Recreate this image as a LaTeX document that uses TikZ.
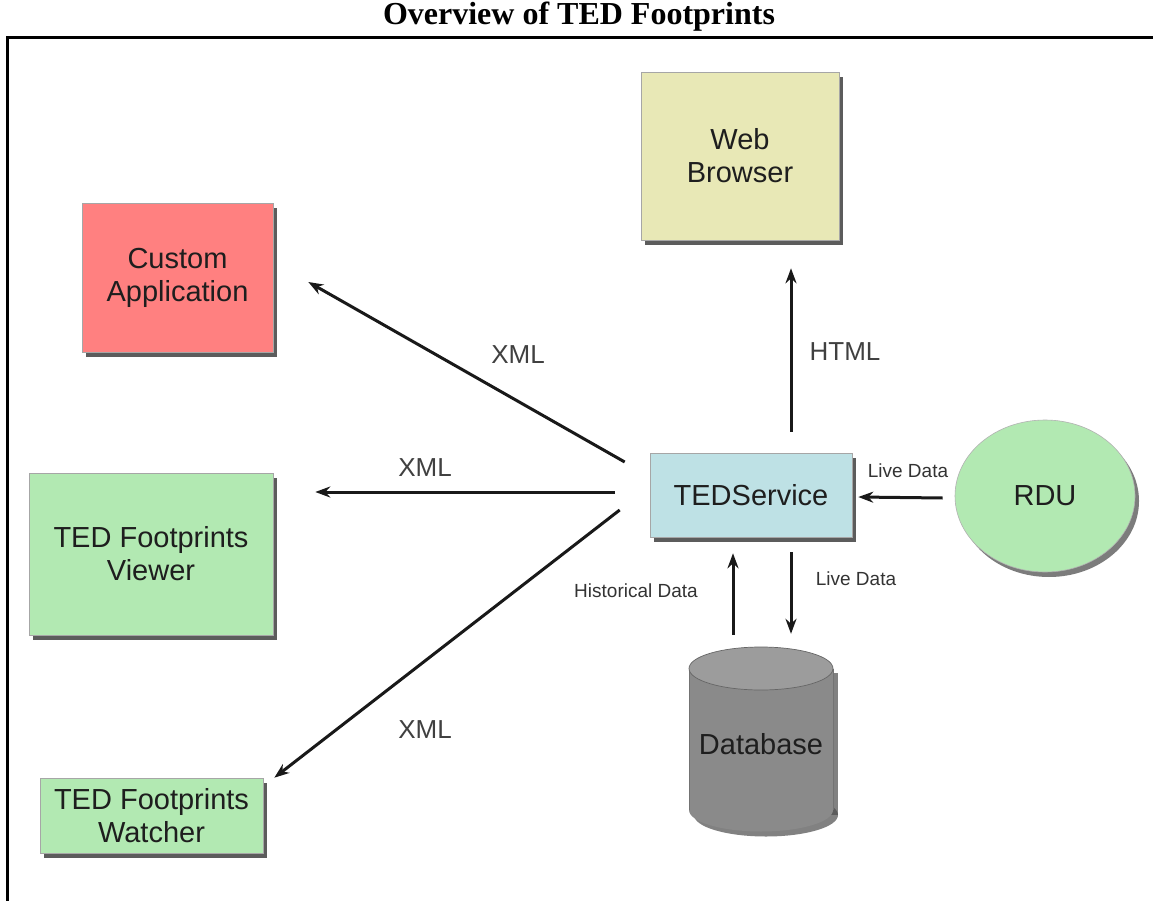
\documentclass[tikz,border=0pt]{standalone}
\usepackage{fontspec}
\setmainfont{Liberation Serif}
\newfontfamily\arial{Liberation Sans}
\usetikzlibrary{shapes.geometric,shadows,arrows.meta,calc}
\definecolor{cred}{HTML}{FF8080}
\definecolor{cyel}{HTML}{E8E8B6}
\definecolor{cblue}{HTML}{BEE1E5}
\definecolor{cgreen}{HTML}{B2E9B2}
\definecolor{cgray}{HTML}{8A8A8A}
\definecolor{ctext}{HTML}{1E1E1E}
\begin{document}
\begin{tikzpicture}[x=1pt,y=-1pt,
  box/.style={rectangle, fill=#1, draw=black!35, line width=0.6pt,
    drop shadow={shadow xshift=4pt,shadow yshift=-5pt,opacity=0.75,fill=black!85},
    font=\arial\fontsize{29}{33}\selectfont, text=ctext, align=center, inner sep=0pt},
  arr/.style={-{Stealth[length=15pt,width=11pt]}, line width=3pt, black!90},
  lbl/.style={font=\arial\fontsize{26}{30}\selectfont, text=black!75},
  slbl/.style={font=\arial\fontsize{19}{22}\selectfont, text=black!80},
]
\useasboundingbox (0,0) rectangle (1153,901);
\fill[white] (0,0) rectangle (1153,901);

% title and frame
\node[font=\bfseries\fontsize{32}{36}\selectfont, anchor=base, inner sep=0pt] (title) at (579,25) {Overview of TED Footprints};
\draw[line width=3pt] (1154,37.5) -- (7,37.5) -- (7,902);

% boxes
\node[box=cyel, minimum width=198pt, minimum height=168pt] (web) at (740,156) {Web\\Browser};
\node[box=cred, minimum width=191pt, minimum height=149pt] (custom) at (177.5,277.5) {Custom\\Application};
\node[box=cblue, minimum width=202pt, minimum height=84pt] (ted) at (751,495) {TEDService};
\node[box=cgreen, minimum width=244pt, minimum height=162pt] (viewer) at (151,554) {TED Footprints\\Viewer};
\node[box=cgreen, minimum width=223pt, minimum height=75pt] (watcher) at (151.5,815.5) {TED Footprints\\Watcher};
\node[ellipse, fill=cgreen, draw=black!30, line width=0.6pt,
  drop shadow={shadow xshift=4pt,shadow yshift=-5pt,opacity=0.6,fill=black!85},
  minimum width=180pt, minimum height=152pt, inner sep=0pt,
  font=\arial\fontsize{29}{33}\selectfont, text=ctext] (rdu) at (1045,496) {RDU};

% database cylinder
\fill[black!70, opacity=0.7] (694,673) rectangle (838,815);
\fill[black!70, opacity=0.7] (766,815) ellipse [x radius=72, y radius=21.5];
\fill[cgray] (689,668.5) rectangle (833,810);
\fill[cgray] (761,810) ellipse [x radius=72, y radius=21.5];
\draw[black!55, line width=0.6pt] (689,668.5) -- (689,810);
\draw[black!55, line width=0.6pt] (833,668.5) -- (833,810);
\fill[cgray!85!white] (761,668.5) ellipse [x radius=72, y radius=21.5];
\draw[black!60, line width=0.7pt] (761,668.5) ellipse [x radius=72, y radius=21.5];
\node[minimum width=144pt, minimum height=185pt, inner sep=0pt,
  font=\arial\fontsize{29}{33}\selectfont, text=ctext, text depth=0pt] (db) at (761,739.5) {\raisebox{-8pt}{Database}};

% connectors
\draw[arr] ([xshift=40pt,yshift=21pt]ted.north) -- ([xshift=51pt,yshift=-28pt]web.south);
\draw[arr] ([xshift=-25pt,yshift=33pt]ted.west) -- ([xshift=35pt,yshift=-4.5pt]custom.east);
\draw[arr] ([xshift=-35pt,yshift=3pt]ted.west) -- ([xshift=42pt,yshift=62pt]viewer.east);
\draw[arr] ([xshift=-30pt,yshift=-15pt]ted.west) -- ([xshift=11pt,yshift=0pt]watcher.north east);
\draw[arr] ([xshift=-12pt,yshift=-2pt]rdu.west) -- ([xshift=6pt,yshift=-2pt]ted.east);
\draw[arr] ([xshift=-28pt,yshift=12pt]db.north) -- ([xshift=-18pt,yshift=-16pt]ted.south);
\draw[arr] ([xshift=40pt,yshift=-15pt]ted.south) -- ([xshift=30pt,yshift=13pt]db.north);

% labels
\node[lbl] (l1) at (845,352) {HTML};
\node[lbl] (l2) at (518,355) {XML};
\node[lbl] (l3) at (425,468) {XML};
\node[lbl] (l4) at (425,730) {XML};
\node[slbl] (l5) at (908,471) {Live Data};
\node[slbl] (l6) at (636,591) {Historical Data};
\node[slbl] (l7) at (856,579) {Live Data};
\end{tikzpicture}
\end{document}
